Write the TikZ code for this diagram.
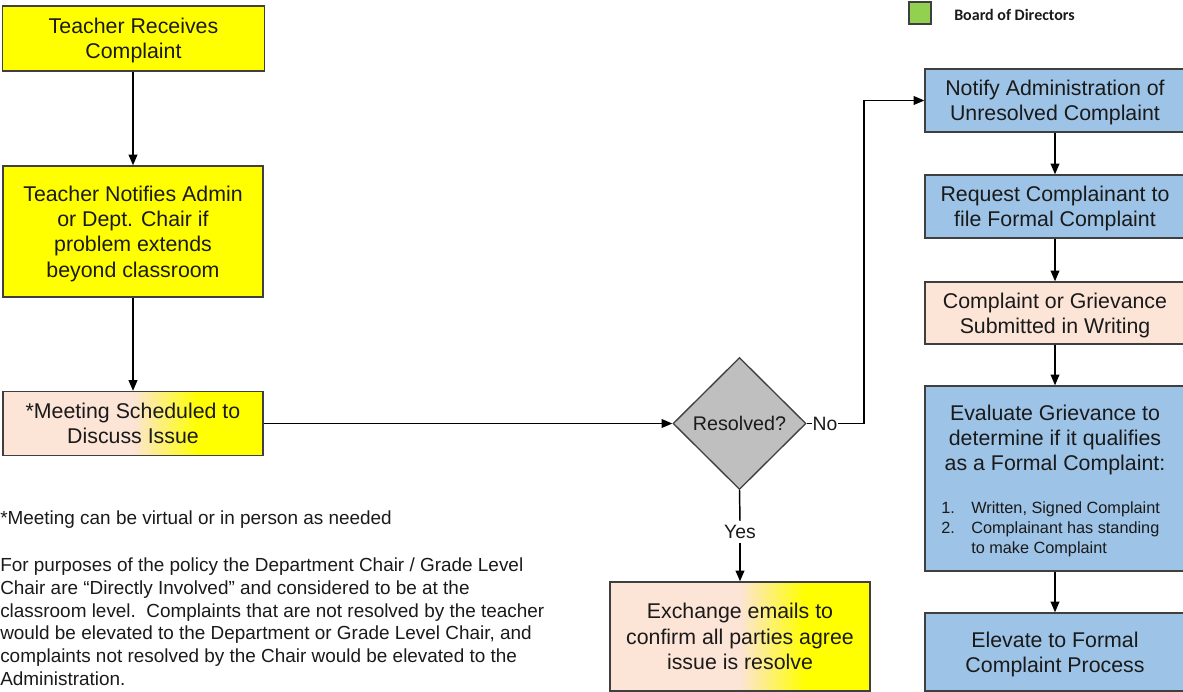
\documentclass[tikz,border=0pt]{standalone}
\usepackage{fontspec}
\setmainfont{Liberation Sans}
\newfontfamily\legendfont{Carlito}
\usetikzlibrary{shapes.geometric,arrows.meta,calc}
\definecolor{boxyellow}{HTML}{FFFF00}
\definecolor{boxblue}{HTML}{9DC3E6}
\definecolor{boxpink}{HTML}{FCE4D6}
\definecolor{boxgray}{HTML}{BFBFBF}
\definecolor{boxgreen}{HTML}{92D050}
\definecolor{edge}{HTML}{3F3F3F}
\definecolor{txt}{HTML}{1A1A1A}
\begin{document}
\begin{tikzpicture}[x=0.75pt,y=-0.75pt,
  sz/.style 2 args={minimum width=#1*0.75pt, minimum height=#2*0.75pt},
  box/.style={draw=edge, line width=1pt, align=center, inner sep=0pt, text depth=0pt,
    font=\fontsize{16}{19}\selectfont, text=txt},
  ybox/.style={box, fill=boxyellow},
  bbox/.style={box, fill=boxblue},
  pbox/.style={box, fill=boxpink},
  gbox/.style={box, path picture={
    \fill[boxpink] (path picture bounding box.south west) rectangle (path picture bounding box.north);
    \shade[left color=boxpink, right color=boxyellow] (path picture bounding box.south) rectangle ($(path picture bounding box.north)!0.5!(path picture bounding box.north east)$);
    \fill[boxyellow] ($(path picture bounding box.south)!0.5!(path picture bounding box.south east)$) rectangle (path picture bounding box.north east);
  }},
  lbl/.style={font=\fontsize{14.5}{17}\selectfont, text=txt, inner sep=0.4pt},
  conn/.style={line width=1.1pt, black},
  arr/.style={conn, -{Triangle[length=8pt,width=6.5pt]}},
  notefont/.style={font=\fontsize{14.2}{17}\selectfont, text=txt, inner sep=0pt},
]
\useasboundingbox (0,0) rectangle (1183,692);

% legend
\node[draw=edge, fill=boxgreen, line width=0.8pt, minimum size=22*0.75pt, inner sep=0pt] (lg) at (920,13) {};
\node[anchor=west, font=\legendfont\bfseries\fontsize{12}{14}\selectfont, text=txt, inner sep=0pt] (lgt) at (954,15) {Board of Directors};

% left column
\node[ybox, sz={262}{65}] (r1) at (133.5,38.5) {Teacher Receives\\Complaint};
\node[ybox, sz={260}{131}] (n1) at (133,231.5) {Teacher Notifies Admin\\or Dept. Chair if\\problem extends\\beyond classroom};
\node[gbox, sz={260}{64}] (m1) at (133,423.5) {*Meeting Scheduled to\\Discuss Issue};

% decision
\node[diamond, draw=edge, fill=boxgray, line width=1pt, minimum width=133*0.75pt, minimum height=132*0.75pt, inner sep=0pt, font=\fontsize{14.8}{17}\selectfont, text=txt] (d) at (739.5,423.5) {Resolved?};
\node[lbl] (no) at (825,423.5) {No};
\coordinate (c1) at (864,423.5);
\node[lbl, inner sep=3pt] (yes) at (740,532) {Yes};
\node[gbox, sz={260}{109}] (ex) at (740,636.5) {Exchange emails to\\confirm all parties agree\\issue is resolve};

% right column
\node[bbox, sz={260}{63}] (a1) at (1055,100.5) {Notify Administration of\\Unresolved Complaint};
\node[bbox, sz={260}{63}] (a2) at (1055,206.5) {Request Complainant to\\file Formal Complaint};
\node[pbox, sz={260}{62}] (a3) at (1055,313) {Complaint or Grievance\\Submitted in Writing};
\node[bbox, sz={260}{185}] (a4) at (1055,478.5) {};
\node[align=center, inner sep=0pt, font=\fontsize{16}{19}\selectfont, text=txt] (a4t) at (1055,440) {Evaluate Grievance to\\determine if it qualifies\\as a Formal Complaint:};
\node[anchor=west, inner sep=0pt, font=\fontsize{12.2}{15}\selectfont, text=txt] (a4l) at (941,529.5)
  {\begin{tabular}{@{}p{22.5pt}@{}l@{}}1.&Written, Signed Complaint\\2.&Complainant has standing\\&to make Complaint\end{tabular}};
\node[bbox, sz={260}{78}] (a5) at (1055,652) {Elevate to Formal\\Complaint Process};

% notes
\node[notefont, anchor=base west] (note1) at (0,524) {*Meeting can be virtual or in person as needed};
\node[notefont, anchor=north west, align=left] (note2) at (0,558) {For purposes of the policy the Department Chair / Grade Level\\Chair are “Directly Involved” and considered to be at the\\classroom level.\ \ Complaints that are not resolved by the teacher\\would be elevated to the Department or Grade Level Chair, and\\complaints not resolved by the Chair would be elevated to the\\Administration.};

% connectors
\draw[arr] (r1.south -| n1.north) -- (n1.north);
\draw[arr] (n1) -- (m1);
\draw[arr] (m1) -- (d);
\draw[conn] (d.east) -- (no.west);
\draw[arr] (no.east) -- (c1) |- (a1.west);
\draw[conn] (d.south) -- (yes.north);
\draw[arr] (yes.south) -- (ex.north);
\draw[arr] (a1) -- (a2);
\draw[arr] (a2) -- (a3);
\draw[arr] (a3) -- (a4);
\draw[arr] (a4) -- (a5);
\end{tikzpicture}
\end{document}
